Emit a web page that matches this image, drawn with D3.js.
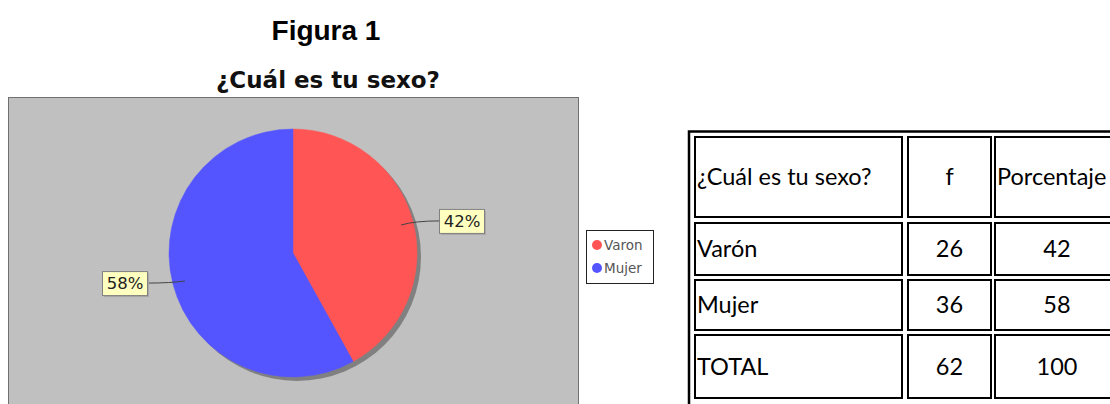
<!DOCTYPE html>
<html><head><meta charset="utf-8">
<script src="https://cdn.jsdelivr.net/npm/d3@7"></script>
<style>body{margin:0;background:#fff}svg{display:block}</style>
</head><body>
<svg id="c" width="1110" height="404"></svg>
<script>
const categories = ["Varon", "Mujer"];
const frequencies = [26, 36];
const percentages = [42, 58];
const tableHeader = ["¿Cuál es tu sexo?", "f", "Porcentaje"];
const tableLabels = ["Varón", "Mujer", "TOTAL"];
const tableF = [26, 36, 62];
const tablePct = [42, 58, 100];
const colors = ["#ff5555", "#5555ff"];

const svg = d3.select("#c");

// Titles
svg.append("text").attr("x", 326).attr("y", 40).attr("text-anchor", "middle")
  .style("font-family", "Liberation Sans, Arial").style("font-weight", "bold").style("font-size", "28px")
  .text("Figura 1");
svg.append("text").attr("x", 328).attr("y", 88).attr("text-anchor", "middle")
  .style("font-family", "DejaVu Sans").style("font-weight", "bold").style("font-size", "23px")
  .attr("fill", "#111").text("¿Cuál es tu sexo?");

// Plot background
svg.append("rect").attr("x", 8.5).attr("y", 97.5).attr("width", 570).attr("height", 330)
  .attr("fill", "#c0c0c0").attr("stroke", "#707070");

const cx = 293, cy = 253, r = 124;
const pie = d3.pie().sort(null).value(d => d)(frequencies);
const arc = d3.arc().innerRadius(0).outerRadius(r);

const g = svg.append("g");
// shadow
g.append("g").attr("transform", `translate(${cx + 4},${cy + 4})`)
  .append("circle").attr("r", r).attr("fill", "#808080");
const pg = g.append("g").attr("transform", `translate(${cx},${cy})`);
pg.selectAll("path").data(pie).join("path")
  .attr("d", arc).attr("fill", (d, i) => colors[i])
  .attr("stroke", (d, i) => colors[i]).attr("stroke-width", 0.5);

// Labels
pie.forEach((d, i) => {
  const a = (d.startAngle + d.endAngle) / 2;
  const sx = Math.sin(a), sy = -Math.cos(a);
  const ax = cx + 0.9 * r * sx, ay = cy + 0.9 * r * sy;
  const ly = cy + r * sy - 1;
  const side = sx >= 0 ? 1 : -1;
  const ex = cx + side * (r + 22);
  svg.append("path")
    .attr("d", `M${ax},${ay} Q${ax + side * 14},${ly} ${ex},${ly}`)
    .attr("fill", "none").attr("stroke", "#444").attr("stroke-width", 1);
  const bw = 45, bh = 24;
  const bx = side > 0 ? ex : ex - bw;
  svg.append("rect").attr("x", bx + 2).attr("y", ly - bh / 2 + 2).attr("width", bw).attr("height", bh)
    .attr("fill", "#a8a8a8");
  svg.append("rect").attr("x", bx + 0.5).attr("y", ly - bh / 2 + 0.5).attr("width", bw).attr("height", bh)
    .attr("fill", "#ffffc0").attr("stroke", "#808080");
  svg.append("text").attr("x", bx + bw / 2 + 0.5).attr("y", ly + 6)
    .attr("text-anchor", "middle").style("font-family", "DejaVu Sans").style("font-size", "16.5px")
    .attr("fill", "#222").text(percentages[i] + "%");
});

// Legend
svg.append("rect").attr("x", 586.5).attr("y", 230.5).attr("width", 67).attr("height", 53)
  .attr("fill", "#fff").attr("stroke", "#222");
categories.forEach((c, i) => {
  const y = 245 + i * 23;
  svg.append("circle").attr("cx", 597).attr("cy", y).attr("r", 5).attr("fill", colors[i]);
  svg.append("text").attr("x", 604).attr("y", y + 5)
    .style("font-family", "DejaVu Sans").style("font-size", "13.5px").attr("fill", "#555").text(c);
});

// Table
const colX = [695, 908, 995];
const colW = [207, 83, 124];
const rowY = [137, 223, 280, 335];
const rowH = [80, 52, 50, 63];
svg.append("rect").attr("x", 689).attr("y", 131.5).attr("width", 440).attr("height", 290)
  .attr("fill", "none").attr("stroke", "#000").attr("stroke-width", 2.5);
const rows = [tableHeader].concat(tableLabels.map((l, i) => [l, tableF[i], tablePct[i]]));
rows.forEach((row, ri) => {
  row.forEach((val, ci) => {
    svg.append("rect").attr("x", colX[ci]).attr("y", rowY[ri]).attr("width", colW[ci]).attr("height", rowH[ri])
      .attr("fill", "none").attr("stroke", "#000").attr("stroke-width", 2);
    const t = svg.append("text")
      .attr("y", rowY[ri] + rowH[ri] / 2 + 8)
      .style("font-family", "Lato, Carlito, Calibri").style("font-size", "23.5px").attr("fill", "#000")
      .text(val);
    if (ci === 0 || (ri === 0 && ci === 2)) t.attr("x", colX[ci] + 2);
    else t.attr("x", colX[ci] + colW[ci] / 2).attr("text-anchor", "middle");
  });
});
</script>
</body></html>
